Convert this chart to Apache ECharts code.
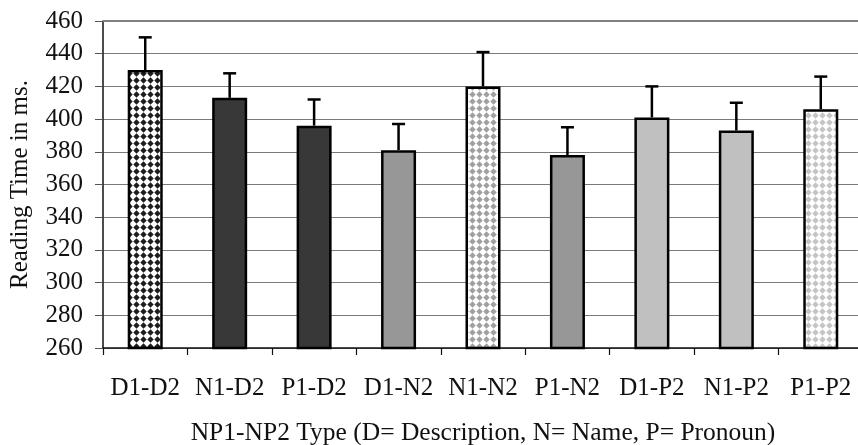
<!DOCTYPE html>
<html><head><meta charset="utf-8">
<script src="https://cdn.jsdelivr.net/npm/echarts@6/dist/echarts.min.js"></script>
<style>html,body{margin:0;padding:0;background:#fff}#c{width:858px;height:445px}</style>
</head><body><div id="c"></div>
<script>
const categories = ['D1-D2','N1-D2','P1-D2','D1-N2','N1-N2','P1-N2','D1-P2','N1-P2','P1-P2'];
const means = [430, 413, 396, 381, 420, 378, 401, 393, 406];
const errorTops = [450, 428, 412, 397, 441, 395, 420, 410, 426];
const yTicks = {min: 260, max: 460, step: 20};

function dotPattern(dot) {
  const c = document.createElement('canvas');
  c.width = 7; c.height = 7;
  const g = c.getContext('2d');
  g.fillStyle = '#ffffff'; g.fillRect(0, 0, 7, 7);
  g.fillStyle = dot;
  g.beginPath(); g.moveTo(3.5, 0.3); g.lineTo(6.7, 3.5); g.lineTo(3.5, 6.7); g.lineTo(0.3, 3.5); g.closePath(); g.fill();
  return {image: c, repeat: 'repeat'};
}
const fills = [dotPattern('#1e1e1e'), '#383838', '#383838', '#979797', dotPattern('#a0a0a0'), '#979797', '#c0c0c0', '#c0c0c0', dotPattern('#c4c4c4')];

const chart = echarts.init(document.getElementById('c'));
const font = 'Liberation Serif';
chart.setOption({
  animation: false,
  backgroundColor: '#ffffff',
  grid: {left: 103, top: 21, right: -5, bottom: 97, containLabel: false, outerBoundsMode: 'none'},
  xAxis: {
    type: 'category', data: categories,
    axisLine: {lineStyle: {color: '#111', width: 1.5}},
    axisTick: {show: true, interval: 0, length: 7, lineStyle: {color: '#111', width: 1.2}},
    axisLabel: {interval: 0, hideOverlap: false, color: '#111', fontFamily: font, fontSize: 25, margin: 28},
    name: 'NP1-NP2 Type (D= Description, N= Name, P= Pronoun)',
    nameLocation: 'middle', nameGap: 72,
    nameTextStyle: {color: '#111', fontFamily: font, fontSize: 25.5}
  },
  yAxis: {
    type: 'value', min: yTicks.min, max: yTicks.max, interval: yTicks.step,
    axisLine: {show: true, lineStyle: {color: '#111', width: 1.5}},
    axisTick: {show: true, length: 8, lineStyle: {color: '#555', width: 1}},
    axisLabel: {color: '#111', fontFamily: font, fontSize: 25, margin: 20},
    splitLine: {lineStyle: {color: '#7a7a7a', width: 1}},
    name: 'Reading Time in ms.', nameLocation: 'middle', nameGap: 70,
    nameTextStyle: {color: '#111', fontFamily: font, fontSize: 25}
  },
  series: [
    {
      type: 'bar', barWidth: 35,
      data: means.map((v, i) => ({value: v, itemStyle: {color: fills[i]}})),
      itemStyle: {borderColor: '#000', borderWidth: 2.5},
      markLine: {
        silent: true, symbol: 'none', label: {show: false},
        lineStyle: {color: '#808080', width: 2, type: 'solid'},
        data: [{yAxis: yTicks.max}]
      }
    },
    {
      type: 'custom',
      data: means.map((v, i) => [i, v, errorTops[i]]),
      renderItem: function (params, api) {
        const base = api.coord([api.value(0), api.value(1)]);
        const top = api.coord([api.value(0), api.value(2)]);
        const hw = 6.5;
        return {
          type: 'group',
          children: [
            {type: 'line', shape: {x1: base[0], y1: base[1], x2: top[0], y2: top[1]}, style: {stroke: '#000', lineWidth: 2.5}},
            {type: 'line', shape: {x1: top[0] - hw, y1: top[1], x2: top[0] + hw, y2: top[1]}, style: {stroke: '#000', lineWidth: 2.5}}
          ]
        };
      },
      z: 5
    }
  ]
});
</script></body></html>
